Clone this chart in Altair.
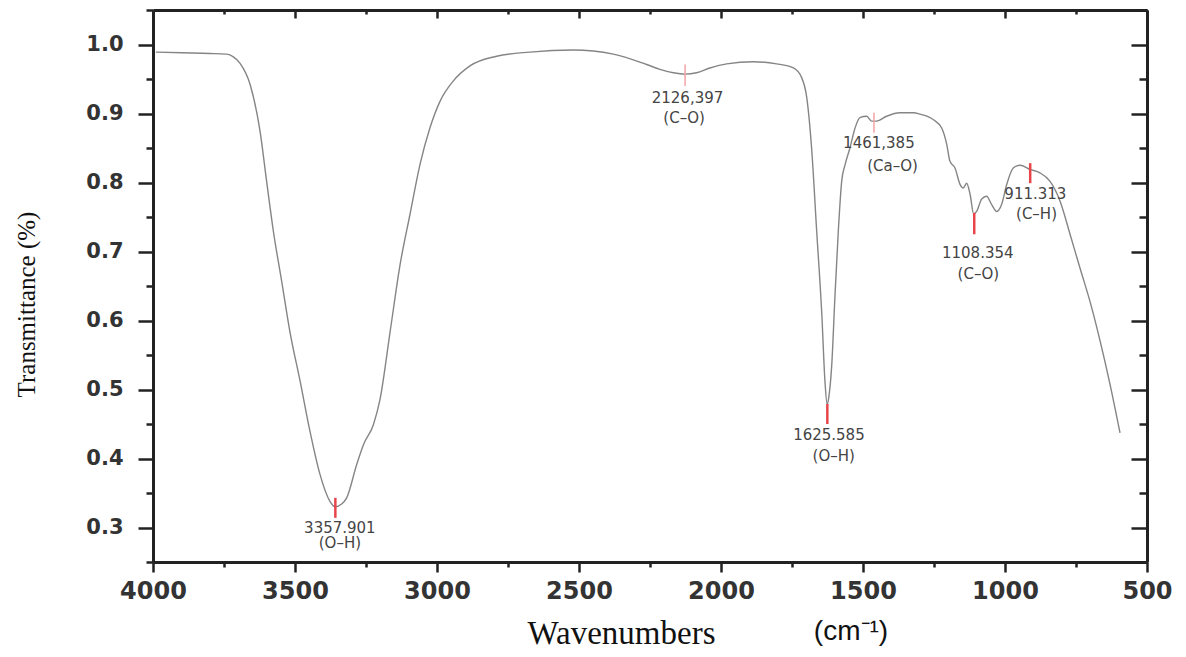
import altair as alt
import pandas as pd

# ---- spectrum ----
wavenumber = [3990, 3900, 3800, 3740, 3717, 3694, 3658, 3623, 3600, 3576, 3547, 3518,
              3482, 3447, 3412, 3377, 3358, 3336, 3318, 3283, 3259, 3224, 3201, 3165,
              3130, 3095, 3060, 3025, 2989, 2943, 2884, 2790, 2673, 2520, 2379, 2262,
              2215, 2168, 2127, 2086, 2039, 1980, 1886, 1804, 1745, 1716, 1698, 1681,
              1663, 1645, 1634, 1626, 1620, 1610, 1599, 1587, 1575, 1563, 1546, 1528,
              1511, 1487, 1470, 1452, 1417, 1370, 1323, 1299, 1252, 1223, 1205, 1194,
              1176, 1158, 1147, 1135, 1123, 1110, 1100, 1082, 1065, 1047, 1029, 1012,
              994, 971, 947, 912, 877, 842, 806, 771, 736, 701, 665, 630, 595]
transmittance = [0.989, 0.988, 0.987, 0.986, 0.982, 0.973, 0.942, 0.874, 0.802, 0.729, 0.657, 0.584,
                 0.512, 0.439, 0.377, 0.338, 0.330, 0.334, 0.343, 0.391, 0.420, 0.449, 0.485, 0.584,
                 0.681, 0.754, 0.826, 0.879, 0.918, 0.947, 0.969, 0.983, 0.989, 0.992, 0.986, 0.971,
                 0.964, 0.959, 0.957, 0.959, 0.966, 0.972, 0.975, 0.972, 0.966, 0.952, 0.923, 0.850,
                 0.729, 0.609, 0.512, 0.478, 0.490, 0.536, 0.633, 0.729, 0.802, 0.826, 0.850, 0.879,
                 0.894, 0.896, 0.889, 0.889, 0.896, 0.901, 0.901, 0.899, 0.891, 0.879, 0.855, 0.831,
                 0.821, 0.797, 0.792, 0.799, 0.783, 0.754, 0.758, 0.776, 0.780, 0.768, 0.758, 0.768,
                 0.797, 0.821, 0.825, 0.819, 0.814, 0.802, 0.773, 0.725, 0.676, 0.628, 0.570, 0.507, 0.437]

# ---- peak markers ----
peak_wn = [3357.901, 2126.397, 1625.585, 1461.385, 1108.354, 911.313]
peak_lo = [0.314, 0.940, 0.450, 0.872, 0.725, 0.799]
peak_hi = [0.343, 0.971, 0.479, 0.901, 0.756, 0.828]
peak_strong = [True, False, True, False, True, True]

# ---- peak labels ----
label_wn = [3342, 3342, 2118, 2130, 1620, 1603, 1444, 1396, 1096, 1094, 893, 889]
label_t = [0.300, 0.277, 0.922, 0.894, 0.434, 0.404, 0.857, 0.824, 0.698, 0.668, 0.783, 0.754]
label_text = ["3357.901", "(O–H)", "2126,397", "(C–O)", "1625.585", "(O–H)",
              "1461,385", "(Ca–O)", "1108.354", "(C–O)", "911.313", "(C–H)"]

# ---- axis ticks ----
x_ticks = [500, 750, 1000, 1250, 1500, 1750, 2000, 2250, 2500, 2750, 3000, 3250, 3500, 3750, 4000]
y_ticks = [0.25, 0.3, 0.35, 0.4, 0.45, 0.5, 0.55, 0.6, 0.65, 0.7, 0.75, 0.8, 0.85, 0.9, 0.95, 1.0, 1.05]
unit_text = ["(cm⁻¹)"]

W, H = 994, 552

spec = pd.DataFrame({"wn": wavenumber, "t": transmittance})
peaks = pd.DataFrame({"wn": peak_wn, "t": peak_lo, "t2": peak_hi, "strong": peak_strong})
labels = pd.DataFrame({"wn": label_wn, "t": label_t, "txt": label_text})
unit = pd.DataFrame({"u": unit_text})

xscale = alt.Scale(domain=[500, 4000], reverse=True, nice=False, zero=False)
yscale = alt.Scale(domain=[0.25, 1.05], nice=False, zero=False)

x_major = "datum.value % 500 === 0"
y_major = "abs(datum.value * 10 - round(datum.value * 10)) < 0.001"

x_axis = alt.Axis(
    orient="bottom", values=x_ticks, grid=False,
    tickSize={"condition": {"test": x_major, "value": 10}, "value": 5},
    tickColor="#222", tickWidth=2.5,
    domainColor="#222", domainWidth=3,
    labelExpr=f"{x_major} ? format(datum.value, 'd') : ''",
    labelFont="DejaVu Sans", labelFontWeight="bold", labelFontSize=24, labelColor="#333",
    labelPadding=7, labelFlush=False, labelOverlap=False,
    title="Wavenumbers", titleFont="Liberation Serif", titleFontSize=33,
    titleFontWeight="normal", titleColor="#111",
    titleX=468, titleY=71, titleAlign="center", titleBaseline="middle",
)
y_axis = alt.Axis(
    orient="left", values=y_ticks, grid=False,
    tickSize={"condition": {"test": y_major, "value": 15}, "value": 7},
    tickColor="#222", tickWidth=2.5,
    domainColor="#222", domainWidth=3,
    labelExpr=f"({y_major}) && datum.value > 0.26 && datum.value < 1.04 ? format(datum.value, '.1f') : ''",
    labelFont="DejaVu Sans", labelFontWeight="bold", labelFontSize=21, labelColor="#333",
    labelPadding=15, labelFlush=False, labelOverlap=False,
    title="Transmittance (%)", titleFont="Liberation Serif", titleFontSize=25,
    titleFontWeight="normal", titleColor="#111",
    titleX=-127, titleY=294, titleAlign="center", titleBaseline="middle", titleAngle=-90,
)

line = alt.Chart(spec).mark_line(color="#858585", strokeWidth=1.4, interpolate="monotone").encode(
    x=alt.X("wn:Q", scale=xscale, axis=x_axis),
    y=alt.Y("t:Q", scale=yscale, axis=y_axis),
)

# inward ticks on the top and right edges
frame = alt.Chart(spec).mark_line(strokeOpacity=0).encode(
    x=alt.X("wn:Q", scale=xscale, axis=alt.Axis(
        orient="bottom", offset=-H, values=x_ticks, grid=False, labels=False, title="",
        tickSize={"condition": {"test": x_major, "value": 8}, "value": 4},
        tickColor="#222", tickWidth=2.5, domainColor="#222", domainWidth=3)),
    y=alt.Y("t:Q", scale=yscale, axis=alt.Axis(
        orient="left", offset=-W, values=y_ticks, grid=False, labels=False, title="",
        tickSize={"condition": {"test": y_major, "value": 16}, "value": 8},
        tickColor="#222", tickWidth=2.5, domainColor="#222", domainWidth=3)),
)

markers = alt.Chart(peaks).mark_rule().encode(
    x=alt.X("wn:Q", scale=xscale, axis=None),
    y=alt.Y("t:Q", scale=yscale, axis=None),
    y2="t2:Q",
    color=alt.condition("datum.strong", alt.value("#e8454a"), alt.value("#f4a3a6")),
    strokeWidth=alt.condition("datum.strong", alt.value(2.5), alt.value(1.5)),
)

texts = alt.Chart(labels).mark_text(
    font="DejaVu Sans", fontSize=15, color="#444", align="center", baseline="middle"
).encode(
    x=alt.X("wn:Q", scale=xscale, axis=None),
    y=alt.Y("t:Q", scale=yscale, axis=None),
    text="txt:N",
)

unit_mark = alt.Chart(unit).mark_text(
    font="Liberation Sans", fontSize=28, color="#111", align="center", baseline="middle"
).encode(x=alt.value(698), y=alt.value(622), text="u:N")

chart = alt.layer(line, frame, markers, texts, unit_mark).resolve_axis(
    x="independent", y="independent"
).properties(
    width=W, height=H,
    autosize=alt.AutoSizeParams(type="none"),
    padding={"left": 145, "top": 2, "right": 30, "bottom": 87},
    background="white",
).configure_view(strokeWidth=0)

chart.save("out.html", embed_options={"renderer": "svg", "actions": False})
